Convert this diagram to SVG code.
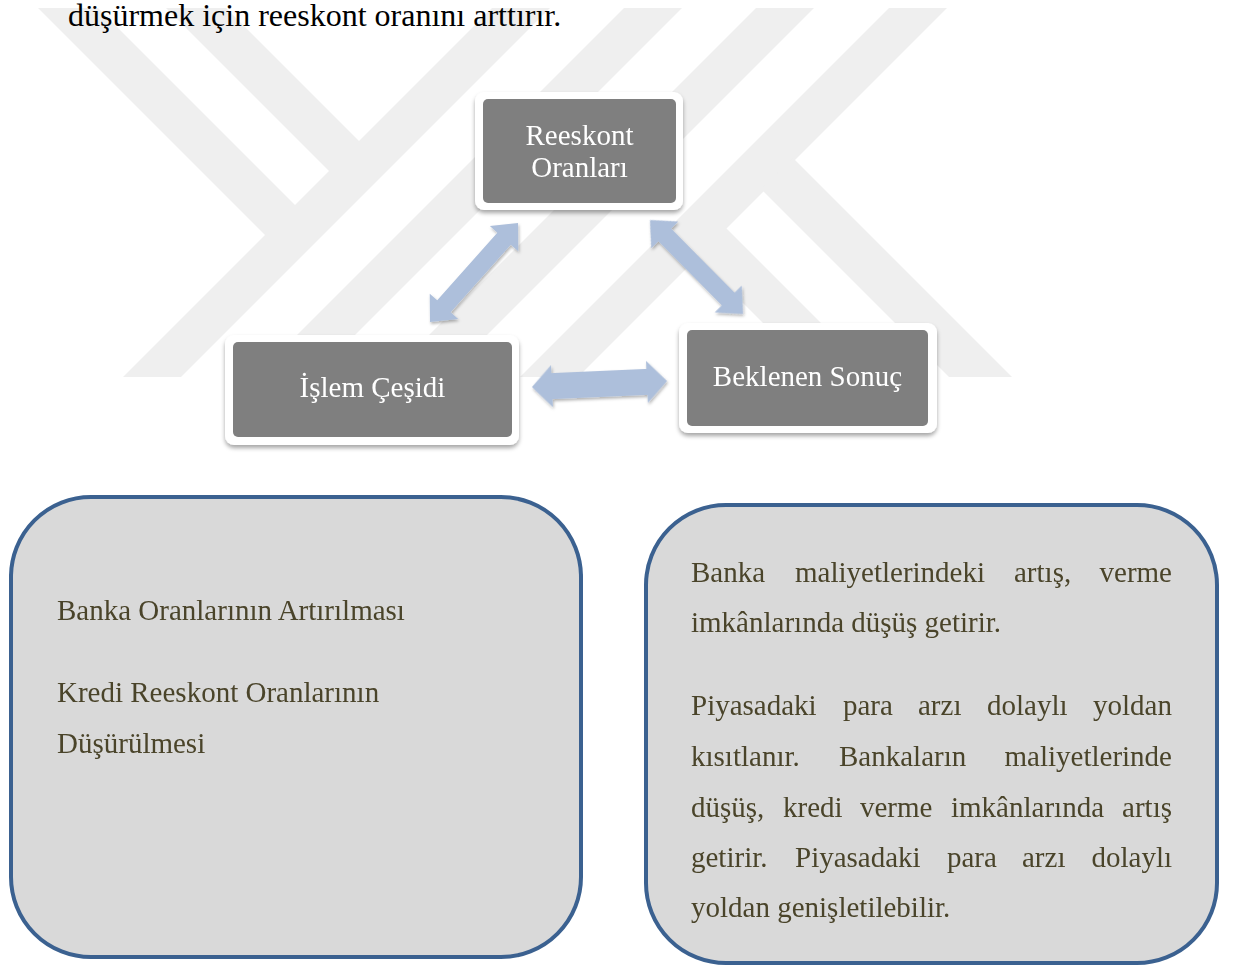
<svg xmlns="http://www.w3.org/2000/svg" width="1233" height="966" viewBox="0 0 1233 966">
  <defs>
    <style>
      .serif { font-family: "Liberation Serif", "Times New Roman", serif; }
      .wm { fill: #efefef; }
      .frame { fill: #ffffff; }
      .node { fill: #7f7f7f; }
      .nodetext { fill: #ffffff; font-size: 29px; text-anchor: middle; }
      .arrow { fill: #adbfdb; }
      .box { fill: #d9d9d9; stroke: #3b6190; stroke-width: 4; }
      .boxtext { fill: #4a442a; font-size: 29px; }
      .end { text-anchor: end; }
    </style>
    <filter id="nodeShadow" x="-10%" y="-10%" width="120%" height="130%">
      <feDropShadow dx="0" dy="3" stdDeviation="2.2" flood-color="#000000" flood-opacity="0.35"/>
    </filter>
    <filter id="arrowShadow" x="-20%" y="-20%" width="140%" height="140%">
      <feDropShadow dx="1" dy="2" stdDeviation="1.5" flood-color="#000000" flood-opacity="0.3"/>
    </filter>
  </defs>

  <rect x="0" y="0" width="1233" height="966" fill="#ffffff"/>

  <!-- watermark -->
  <g id="watermark">
    <polygon class="wm" points="492,8 550,8 181,377 123,377"/>
    <polygon class="wm" points="624,8 682,8 313,377 255,377"/>
    <polygon class="wm" points="756,8 814,8 445,377 387,377"/>
    <polygon class="wm" points="889,8 947,8 578,377 520,377"/>
    <polygon class="wm" points="38,8 98,8 297,207 267,237"/>
    <polygon class="wm" points="166,8 226,8 361,143 331,173"/>
    <polygon class="wm" points="793,158 1012,377 949,377 761,189"/>
    <polygon class="wm" points="724,226 875,377 817,377 695,255"/>
  </g>

  <text class="serif" x="68" y="26" font-size="32" fill="#000000">düşürmek için reeskont oranını arttırır.</text>

  <!-- connectors -->
  <g id="connectors" filter="url(#arrowShadow)">
    <polygon class="arrow" transform="translate(430,322) rotate(-48.37)" points="0,0 21,-19 21,-9 111.5,-9 111.5,-19 132.5,0 111.5,19 111.5,9 21,9 21,19"/>
    <polygon class="arrow" transform="translate(650,220) rotate(45.3)" points="0,0 21,-19 21,-9 111.2,-9 111.2,-19 132.2,0 111.2,19 111.2,9 21,9 21,19"/>
    <polygon class="arrow" transform="translate(532,387) rotate(-2.54)" points="0,0 20,-21 20,-13 115.1,-13 115.1,-21 135.1,0 115.1,21 115.1,13 20,13 20,21"/>
  </g>

  <!-- nodes -->
  <g id="node-reeskont">
    <rect class="frame" x="475" y="92" width="208" height="118" rx="9" filter="url(#nodeShadow)"/>
    <rect class="node" x="483" y="99" width="193" height="104" rx="5"/>
    <text class="serif nodetext" x="579.5" y="145">Reeskont</text>
    <text class="serif nodetext" x="579.5" y="177">Oranları</text>
  </g>

  <g id="node-islem">
    <rect class="frame" x="225" y="335" width="294" height="110" rx="9" filter="url(#nodeShadow)"/>
    <rect class="node" x="233" y="342" width="279" height="95" rx="5"/>
    <text class="serif nodetext" x="372.5" y="397">İşlem Çeşidi</text>
  </g>

  <g id="node-beklenen">
    <rect class="frame" x="679" y="323" width="258" height="110" rx="9" filter="url(#nodeShadow)"/>
    <rect class="node" x="687" y="330" width="241" height="96" rx="5"/>
    <text class="serif nodetext" x="807.5" y="386">Beklenen Sonuç</text>
  </g>

  <!-- bottom left box -->
  <g id="box-left">
    <rect class="box" x="11" y="497" width="570" height="460" rx="80"/>
    <text class="serif boxtext" x="57" y="620">Banka Oranlarının Artırılması</text>
    <text class="serif boxtext" x="57" y="702">Kredi Reeskont Oranlarının</text>
    <text class="serif boxtext" x="57" y="753">Düşürülmesi</text>
  </g>

  <!-- bottom right box -->
  <g id="box-right">
    <rect class="box" x="646" y="505" width="571" height="458" rx="80"/>
    <g class="serif boxtext">
      <text x="691" y="582">Banka</text>
      <text x="795" y="582">maliyetlerindeki</text>
      <text x="1014" y="582">artış,</text>
      <text class="end" x="1172" y="582">verme</text>

      <text x="691" y="632">imkânlarında düşüş getirir.</text>

      <text x="691" y="715">Piyasadaki</text>
      <text x="843" y="715">para</text>
      <text x="918" y="715">arzı</text>
      <text x="987" y="715">dolaylı</text>
      <text class="end" x="1172" y="715">yoldan</text>

      <text x="691" y="766">kısıtlanır.</text>
      <text x="839" y="766">Bankaların</text>
      <text class="end" x="1172" y="766">maliyetlerinde</text>

      <text x="691" y="817">düşüş,</text>
      <text x="783" y="817">kredi</text>
      <text x="860" y="817">verme</text>
      <text x="951" y="817">imkânlarında</text>
      <text class="end" x="1172" y="817">artış</text>

      <text x="691" y="867">getirir.</text>
      <text x="795" y="867">Piyasadaki</text>
      <text x="947" y="867">para</text>
      <text x="1022" y="867">arzı</text>
      <text class="end" x="1172" y="867">dolaylı</text>

      <text x="691" y="917">yoldan genişletilebilir.</text>
    </g>
  </g>
</svg>
